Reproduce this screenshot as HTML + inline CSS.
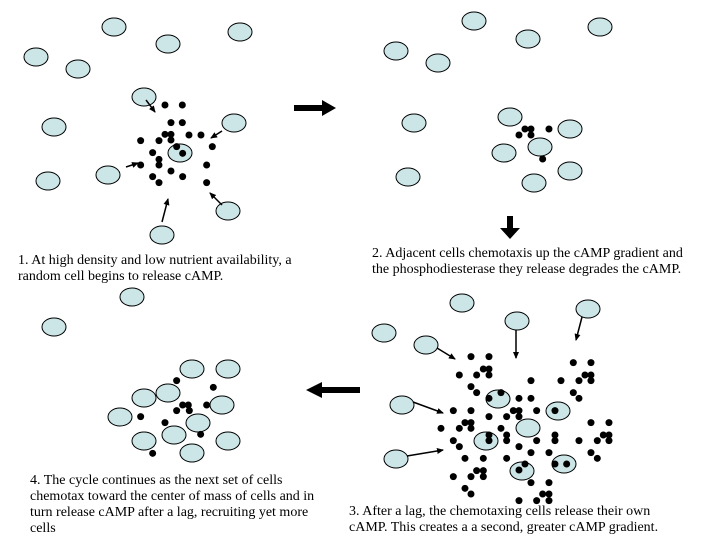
<!DOCTYPE html>
<html><head><meta charset="utf-8"><style>
body{margin:0;background:#fff}
svg{display:block}
text{font-family:"Liberation Serif",serif;font-size:14px;fill:#000}
</style></head><body>
<svg width="720" height="540" viewBox="0 0 720 540" xmlns="http://www.w3.org/2000/svg">
<defs>
<marker id="ah" markerWidth="8" markerHeight="8" refX="6" refY="3" orient="auto" markerUnits="userSpaceOnUse"><path d="M0,0 L7,3 L0,6 z" fill="#000"/></marker>
</defs>
<g id="cells" fill="#cce6e8" stroke="#000" stroke-width="1">
<ellipse cx="114" cy="27" rx="12" ry="9"/><ellipse cx="168" cy="44" rx="12" ry="9"/><ellipse cx="240" cy="32" rx="12" ry="9"/><ellipse cx="36" cy="57" rx="12" ry="9"/><ellipse cx="78" cy="69" rx="12" ry="9"/><ellipse cx="144" cy="97" rx="12" ry="9"/><ellipse cx="54" cy="127" rx="12" ry="9"/><ellipse cx="234" cy="123" rx="12" ry="9"/><ellipse cx="180" cy="153" rx="12" ry="9"/><ellipse cx="48" cy="181" rx="12" ry="9"/><ellipse cx="108" cy="175" rx="12" ry="9"/><ellipse cx="228" cy="211" rx="12" ry="9"/><ellipse cx="162" cy="235" rx="12" ry="9"/>
<ellipse cx="396" cy="51" rx="12" ry="9"/><ellipse cx="438" cy="63" rx="12" ry="9"/><ellipse cx="474" cy="21" rx="12" ry="9"/><ellipse cx="528" cy="39" rx="12" ry="9"/><ellipse cx="600" cy="27" rx="12" ry="9"/><ellipse cx="414" cy="123" rx="12" ry="9"/><ellipse cx="510" cy="117" rx="12" ry="9"/><ellipse cx="570" cy="129" rx="12" ry="9"/><ellipse cx="504" cy="153" rx="12" ry="9"/><ellipse cx="540" cy="147" rx="12" ry="9"/><ellipse cx="570" cy="171" rx="12" ry="9"/><ellipse cx="408" cy="177" rx="12" ry="9"/><ellipse cx="534" cy="183" rx="12" ry="9"/>
<ellipse cx="462" cy="303" rx="12" ry="9"/><ellipse cx="384" cy="333" rx="12" ry="9"/><ellipse cx="517" cy="321" rx="12" ry="9"/><ellipse cx="588" cy="309" rx="12" ry="9"/><ellipse cx="426" cy="345" rx="12" ry="9"/><ellipse cx="402" cy="405" rx="12" ry="9"/><ellipse cx="396" cy="459" rx="12" ry="9"/><ellipse cx="498" cy="399" rx="12" ry="9"/><ellipse cx="558" cy="411" rx="12" ry="9"/><ellipse cx="528" cy="428" rx="12" ry="9"/><ellipse cx="486" cy="441" rx="12" ry="9"/><ellipse cx="522" cy="471" rx="12" ry="9"/><ellipse cx="564" cy="464" rx="12" ry="9"/>
<ellipse cx="132" cy="297" rx="12" ry="9"/><ellipse cx="54" cy="327" rx="12" ry="9"/><ellipse cx="192" cy="369" rx="12" ry="9"/><ellipse cx="228" cy="369" rx="12" ry="9"/><ellipse cx="144" cy="398" rx="12" ry="9"/><ellipse cx="168" cy="393" rx="12" ry="9"/><ellipse cx="222" cy="405" rx="12" ry="9"/><ellipse cx="120" cy="417" rx="12" ry="9"/><ellipse cx="198" cy="423" rx="12" ry="9"/><ellipse cx="174" cy="435" rx="12" ry="9"/><ellipse cx="144" cy="441" rx="12" ry="9"/><ellipse cx="228" cy="441" rx="12" ry="9"/><ellipse cx="192" cy="453" rx="12" ry="9"/>
</g>
<g fill="#000">
<g transform="scale(0.3333)">
<circle cx="495" cy="315" r="10.5"/><circle cx="547" cy="315" r="10.5"/><circle cx="513" cy="368" r="10.5"/><circle cx="547" cy="368" r="10.5"/><circle cx="495" cy="403" r="10.5"/><circle cx="513" cy="403" r="10.5"/><circle cx="567" cy="405" r="10.5"/><circle cx="603" cy="405" r="10.5"/><circle cx="422" cy="422" r="10.5"/><circle cx="477" cy="422" r="10.5"/><circle cx="513" cy="420" r="10.5"/><circle cx="637" cy="440" r="10.5"/><circle cx="530" cy="440" r="10.5"/><circle cx="458" cy="458" r="10.5"/><circle cx="548" cy="460" r="10.5"/><circle cx="477" cy="478" r="10.5"/><circle cx="477" cy="495" r="10.5"/><circle cx="422" cy="495" r="10.5"/><circle cx="620" cy="495" r="10.5"/><circle cx="513" cy="513" r="10.5"/><circle cx="548" cy="530" r="10.5"/><circle cx="458" cy="530" r="10.5"/><circle cx="477" cy="548" r="10.5"/><circle cx="620" cy="548" r="10.5"/>
</g>
<g transform="translate(360,0) scale(0.3333)">
<circle cx="477" cy="405" r="10.5"/><circle cx="495" cy="387" r="10.5"/><circle cx="513" cy="387" r="10.5"/><circle cx="513" cy="405" r="10.5"/><circle cx="567" cy="387" r="10.5"/><circle cx="548" cy="477" r="10.5"/>
</g>
<g transform="translate(360,290) scale(0.3333)">
<circle cx="333" cy="200" r="10.5"/><circle cx="387" cy="200" r="10.5"/><circle cx="298" cy="255" r="10.5"/><circle cx="350" cy="255" r="10.5"/><circle cx="370" cy="237" r="10.5"/><circle cx="387" cy="237" r="10.5"/><circle cx="387" cy="255" r="10.5"/><circle cx="333" cy="290" r="10.5"/><circle cx="350" cy="308" r="10.5"/><circle cx="423" cy="308" r="10.5"/><circle cx="387" cy="325" r="10.5"/><circle cx="477" cy="325" r="10.5"/><circle cx="513" cy="325" r="10.5"/><circle cx="513" cy="272" r="10.5"/><circle cx="603" cy="272" r="10.5"/><circle cx="657" cy="272" r="10.5"/><circle cx="640" cy="218" r="10.5"/><circle cx="693" cy="218" r="10.5"/><circle cx="675" cy="255" r="10.5"/><circle cx="693" cy="255" r="10.5"/><circle cx="693" cy="272" r="10.5"/><circle cx="640" cy="308" r="10.5"/><circle cx="657" cy="325" r="10.5"/><circle cx="280" cy="362" r="10.5"/><circle cx="333" cy="362" r="10.5"/><circle cx="440" cy="380" r="10.5"/><circle cx="387" cy="380" r="10.5"/><circle cx="460" cy="362" r="10.5"/><circle cx="477" cy="362" r="10.5"/><circle cx="477" cy="380" r="10.5"/><circle cx="530" cy="362" r="10.5"/><circle cx="585" cy="362" r="10.5"/><circle cx="243" cy="415" r="10.5"/><circle cx="298" cy="415" r="10.5"/><circle cx="315" cy="398" r="10.5"/><circle cx="333" cy="398" r="10.5"/><circle cx="333" cy="415" r="10.5"/><circle cx="423" cy="415" r="10.5"/><circle cx="387" cy="435" r="10.5"/><circle cx="387" cy="452" r="10.5"/><circle cx="440" cy="435" r="10.5"/><circle cx="440" cy="452" r="10.5"/><circle cx="280" cy="452" r="10.5"/><circle cx="298" cy="470" r="10.5"/><circle cx="477" cy="470" r="10.5"/><circle cx="530" cy="452" r="10.5"/><circle cx="585" cy="435" r="10.5"/><circle cx="585" cy="452" r="10.5"/><circle cx="657" cy="452" r="10.5"/><circle cx="693" cy="398" r="10.5"/><circle cx="747" cy="398" r="10.5"/><circle cx="712" cy="452" r="10.5"/><circle cx="730" cy="435" r="10.5"/><circle cx="747" cy="435" r="10.5"/><circle cx="747" cy="452" r="10.5"/><circle cx="693" cy="488" r="10.5"/><circle cx="712" cy="505" r="10.5"/><circle cx="315" cy="505" r="10.5"/><circle cx="370" cy="505" r="10.5"/><circle cx="440" cy="505" r="10.5"/><circle cx="513" cy="488" r="10.5"/><circle cx="567" cy="488" r="10.5"/><circle cx="585" cy="522" r="10.5"/><circle cx="620" cy="522" r="10.5"/><circle cx="477" cy="540" r="10.5"/><circle cx="495" cy="522" r="10.5"/><circle cx="280" cy="560" r="10.5"/><circle cx="333" cy="560" r="10.5"/><circle cx="350" cy="542" r="10.5"/><circle cx="370" cy="542" r="10.5"/><circle cx="370" cy="560" r="10.5"/><circle cx="315" cy="595" r="10.5"/><circle cx="333" cy="612" r="10.5"/><circle cx="513" cy="578" r="10.5"/><circle cx="567" cy="578" r="10.5"/><circle cx="477" cy="632" r="10.5"/><circle cx="530" cy="632" r="10.5"/><circle cx="548" cy="612" r="10.5"/><circle cx="567" cy="612" r="10.5"/><circle cx="567" cy="632" r="10.5"/>
</g>
<g transform="translate(0,280) scale(0.3333)">
<circle cx="530" cy="302" r="10.5"/><circle cx="640" cy="322" r="10.5"/><circle cx="548" cy="375" r="10.5"/><circle cx="565" cy="375" r="10.5"/><circle cx="620" cy="375" r="10.5"/><circle cx="530" cy="392" r="10.5"/><circle cx="568" cy="392" r="10.5"/><circle cx="422" cy="410" r="10.5"/><circle cx="495" cy="428" r="10.5"/><circle cx="602" cy="463" r="10.5"/><circle cx="458" cy="520" r="10.5"/>
</g>
</g>
<g stroke="#000" stroke-width="1.5" fill="none" marker-end="url(#ah)">
<line x1="146" y1="100" x2="155" y2="112"/>
<line x1="222" y1="131" x2="211" y2="138"/>
<line x1="126" y1="167" x2="138" y2="163"/>
<line x1="162" y1="222" x2="168" y2="199"/>
<line x1="222" y1="205" x2="210" y2="193"/>
<line x1="437" y1="348" x2="455" y2="359"/>
<line x1="413" y1="402" x2="443" y2="413"/>
<line x1="407" y1="456" x2="443" y2="450"/>
<line x1="516" y1="330" x2="516" y2="358"/>
<line x1="582" y1="317" x2="576" y2="340"/>
</g>
<polygon points="294,105 322,105 322,100 336,108 322,116 322,111 294,111" fill="#000"/>
<polygon points="507,216 513,216 513,228 520,228 510,239 500,228 507,228" fill="#000"/>
<polygon points="360,387 322,387 322,382 306,390 322,398 322,393 360,393" fill="#000"/>
<text x="18" y="264">1.  At high density and low nutrient availability, a</text>
<text x="18" y="280">random cell begins to release cAMP.</text>
<text x="372" y="257">2.  Adjacent cells chemotaxis up the cAMP gradient and</text>
<text x="372" y="273">the phosphodiesterase they release degrades the cAMP.</text>
<text x="30" y="484">4.  The cycle continues as the next set of cells</text>
<text x="30" y="500">chemotax toward the center of mass of cells and in</text>
<text x="30" y="516">turn release cAMP after a lag, recruiting yet more</text>
<text x="30" y="532">cells</text>
<text x="349" y="515">3.  After a lag, the chemotaxing cells release their own</text>
<text x="349" y="531">cAMP.  This creates a a second, greater cAMP gradient.</text>
</svg>
</body></html>
